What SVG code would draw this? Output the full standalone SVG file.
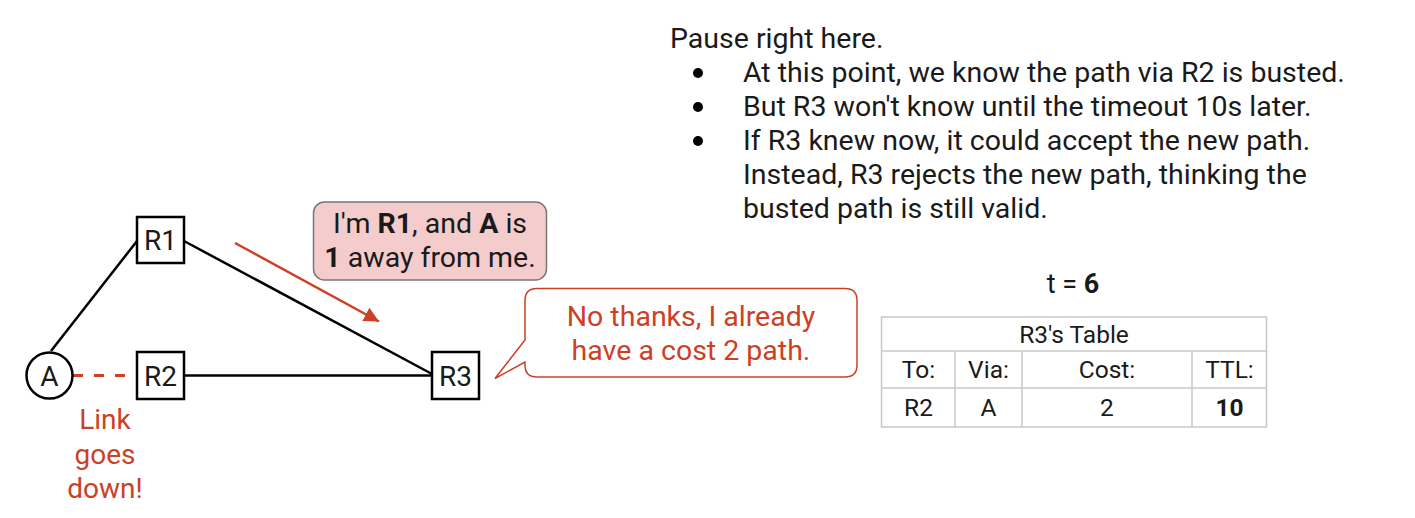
<svg xmlns="http://www.w3.org/2000/svg" width="1415" height="518" viewBox="0 0 1415 518">
<style>
text{font-family:Roboto,"Liberation Sans",sans-serif;fill:#1a1a1a}
.n{font-size:28px;text-anchor:middle}
.red{fill:#cc4125}
.box{fill:#fff;stroke:#000;stroke-width:2.5}
.edge{stroke:#000;stroke-width:2.5;fill:none}
.grid{stroke:#c8c8c8;stroke-width:1.5;fill:none}
.tc{font-size:24.5px;text-anchor:middle}
.body{font-size:28.5px}
</style>
<defs>
<marker id="ah" viewBox="0 0 10 10" refX="10" refY="5" markerWidth="6" markerHeight="6" orient="auto" markerUnits="strokeWidth">
<path d="M0,0 L10,5 L0,10 z" fill="#cc4125"/>
</marker>
</defs>
<g id="connectors">
<line class="edge" x1="51" y1="351" x2="137" y2="241"/>
<line class="edge" x1="184" y1="241" x2="432" y2="374"/>
<line class="edge" x1="184" y1="375.5" x2="432" y2="375.5"/>
<line x1="73" y1="375.5" x2="131" y2="375.5" stroke="#cc4125" stroke-width="3" stroke-dasharray="10 11"/>
<line x1="235" y1="243" x2="379" y2="321.5" stroke="#cc4125" stroke-width="2.5" marker-end="url(#ah)"/>
</g>
<g id="node-A">
<circle cx="49.5" cy="375.5" r="23" class="box"/>
<text class="n" x="49.5" y="385.5">A</text>
</g>
<g id="node-R1">
<rect x="137" y="217" width="47" height="46" class="box"/>
<text class="n" x="160.5" y="250">R1</text>
</g>
<g id="node-R2">
<rect x="137" y="352" width="47" height="47" class="box"/>
<text class="n" x="160.5" y="385.5">R2</text>
</g>
<g id="node-R3">
<rect x="432" y="352" width="47" height="47" class="box"/>
<text class="n" x="455.5" y="385.5">R3</text>
</g>
<g id="link-label">
<text class="n red" x="105" y="429">Link</text>
<text class="n red" x="105" y="464">goes</text>
<text class="n red" x="105" y="498">down!</text>
</g>
<g id="bubble-r1">
<rect x="313.5" y="202" width="233" height="78" rx="11" fill="#f4cccc" stroke="#777" stroke-width="1.5"/>
<text class="n" x="430" y="233" style="font-size:28.5px">I'm <tspan font-weight="bold">R1</tspan>, and <tspan font-weight="bold">A</tspan> is</text>
<text class="n" x="430" y="267" style="font-size:28.5px"><tspan font-weight="bold">1</tspan> away from me.</text>
</g>
<g id="bubble-r3">
<path d="M537 288.5 H845 Q857 288.5 857 300.5 V365 Q857 377 845 377 H537 Q525 377 525 365 V362 L495 378.5 L525 340 V300.5 Q525 288.5 537 288.5 Z" fill="#fff" stroke="#cc4125" stroke-width="1.5"/>
<text class="n red" x="691" y="326" style="font-size:28.5px">No thanks, I already</text>
<text class="n red" x="691" y="360" style="font-size:28.5px">have a cost 2 path.</text>
</g>
<g id="notes">
<text class="body" x="670" y="48">Pause right here.</text>
<circle cx="698" cy="73" r="5" fill="#000"/>
<circle cx="698" cy="107" r="5" fill="#000"/>
<circle cx="698" cy="141" r="5" fill="#000"/>
<text class="body" x="743" y="82">At this point, we know the path via R2 is busted.</text>
<text class="body" x="743" y="116">But R3 won't know until the timeout 10s later.</text>
<text class="body" x="743" y="150">If R3 knew now, it could accept the new path.</text>
<text class="body" x="743" y="184">Instead, R3 rejects the new path, thinking the</text>
<text class="body" x="743" y="218">busted path is still valid.</text>
</g>
<g id="table">
<text class="tc" x="1073" y="293" style="font-size:27px">t = <tspan font-weight="bold">6</tspan></text>
<rect x="881.5" y="317" width="385" height="110" class="grid"/>
<line class="grid" x1="881.5" y1="351" x2="1266.5" y2="351"/>
<line class="grid" x1="881.5" y1="388" x2="1266.5" y2="388"/>
<line class="grid" x1="955" y1="351" x2="955" y2="427"/>
<line class="grid" x1="1022" y1="351" x2="1022" y2="427"/>
<line class="grid" x1="1192" y1="351" x2="1192" y2="427"/>
<text class="tc" x="1074" y="342.5">R3's Table</text>
<text class="tc" x="918.5" y="378">To:</text>
<text class="tc" x="988.5" y="378">Via:</text>
<text class="tc" x="1107" y="378">Cost:</text>
<text class="tc" x="1229.5" y="378">TTL:</text>
<text class="tc" x="918.5" y="416">R2</text>
<text class="tc" x="988.5" y="416">A</text>
<text class="tc" x="1107" y="416">2</text>
<text class="tc" x="1229.5" y="416" font-weight="bold">10</text>
</g>
</svg>
